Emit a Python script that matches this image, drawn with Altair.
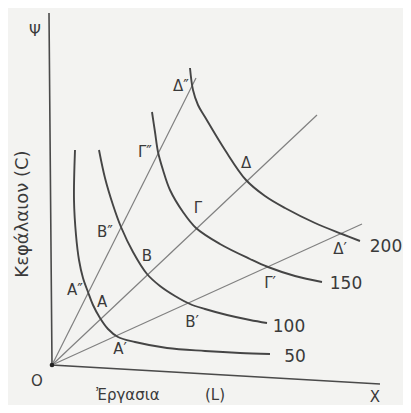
import altair as alt
import pandas as pd

# ---- data (pixel-like units: x to the right, y downward) ----
q50_x = [75, 74, 76, 79, 83, 88, 93, 100, 108, 118, 135, 167, 205, 240, 270]
q50_y = [150, 200, 235, 260, 278, 292, 305, 318, 329, 337, 342, 348, 351, 353, 354]
q100_x = [99, 105, 113, 121, 133, 147, 160, 175, 190, 205, 227, 250, 267]
q100_y = [150, 178, 205, 227, 252, 274, 286, 296, 304, 309, 315, 320, 323]
q150_x = [152, 155, 158, 163, 170, 183, 196, 220, 250, 268, 295, 322]
q150_y = [112, 132, 152, 170, 190, 212, 228, 244, 259, 267, 276, 282]
q200_x = [190, 193, 198, 205, 225, 246, 265, 285, 315, 342, 360]
q200_y = [68, 90, 105, 117, 150, 180, 196, 208, 223, 234, 241]

ray_names = ["r1", "r2", "r3"]
ray_end_x = [196, 317, 362]
ray_end_y = [78, 115, 224]
origin = (52, 365)

axis_x = [49, 52, 380]
axis_y = [13, 365, 384]

quant_labels = ["50", "100", "150", "200"]
quant_lx = [295, 289, 346, 386]
quant_ly = [357, 327, 284, 247]

pt_labels = ["Α″", "Α", "Α′", "Β″", "Β", "Β′", "Γ″", "Γ", "Γ′", "Δ″", "Δ", "Δ′"]
pt_lx = [75, 102, 120, 105, 147, 192, 145, 198, 270, 181, 246, 340]
pt_ly = [290, 302, 349, 232, 256, 322, 152, 208, 283, 86, 163, 249]

other_text = ["Ψ", "O", "Ἐργασια", "(L)", "X"]
other_x = [35, 37, 128, 215, 375]
other_y = [31, 381, 395, 395, 397]

ylabel = "Κεφάλαιον (C)"
ylabel_x, ylabel_y = 23, 214

# ---- tables ----
rows = []
for name, xs, ys in [("50", q50_x, q50_y), ("100", q100_x, q100_y),
                     ("150", q150_x, q150_y), ("200", q200_x, q200_y)]:
    for i, (a, b) in enumerate(zip(xs, ys)):
        rows.append({"q": name, "x": a, "y": b, "o": i})
curves = pd.DataFrame(rows)

rrows = []
for n, ex, ey in zip(ray_names, ray_end_x, ray_end_y):
    rrows.append({"r": n, "x": origin[0], "y": origin[1], "o": 0})
    rrows.append({"r": n, "x": ex, "y": ey, "o": 1})
rays = pd.DataFrame(rrows)

axes = pd.DataFrame({"x": axis_x, "y": axis_y, "o": list(range(len(axis_x)))})
qlab = pd.DataFrame({"t": quant_labels, "x": quant_lx, "y": quant_ly})
plab = pd.DataFrame({"t": pt_labels, "x": pt_lx, "y": pt_ly})
olab = pd.DataFrame({"t": other_text, "x": other_x, "y": other_y})
ylab = pd.DataFrame({"t": [ylabel], "x": [ylabel_x], "y": [ylabel_y]})
orig = pd.DataFrame({"x": [origin[0]], "y": [origin[1]]})

X = alt.X("x:Q", scale=alt.Scale(domain=[8, 403], nice=False, zero=False), axis=None)
Y = alt.Y("y:Q", scale=alt.Scale(domain=[8, 405], nice=False, zero=False, reverse=True), axis=None)

ink = "#3a3a3a"
font = "DejaVu Sans"

axis_layer = alt.Chart(axes).mark_line(color="#4a4a4a", strokeWidth=1.6).encode(x=X, y=Y, order="o:Q")
ray_layer = alt.Chart(rays).mark_line(color="#808080", strokeWidth=1.2).encode(
    x=X, y=Y, detail="r:N", order="o:Q")
curve_layer = alt.Chart(curves).mark_line(color="#454545", strokeWidth=1.9,
                                          interpolate="catmull-rom").encode(
    x=X, y=Y, detail="q:N", order="o:Q")
orig_layer = alt.Chart(orig).mark_point(filled=True, color="#222", size=22, opacity=1).encode(x=X, y=Y)

qtext = alt.Chart(qlab).mark_text(font=font, fontSize=17, color=ink).encode(x=X, y=Y, text="t:N")
ptext = alt.Chart(plab).mark_text(font=font, fontSize=15, color=ink).encode(x=X, y=Y, text="t:N")
otext = alt.Chart(olab).mark_text(font=font, fontSize=15, color=ink).encode(x=X, y=Y, text="t:N")
ytext = alt.Chart(ylab).mark_text(font=font, fontSize=18, color=ink, angle=270).encode(x=X, y=Y, text="t:N")

chart = alt.layer(axis_layer, ray_layer, curve_layer, orig_layer, qtext, ptext, otext, ytext).properties(
    width=395, height=397, padding=0, background="#f3f3f1",
    autosize=alt.AutoSizeParams(type="none")
).configure_view(stroke=None)

chart.save("out.html", embed_options={"renderer": "svg", "actions": False})
